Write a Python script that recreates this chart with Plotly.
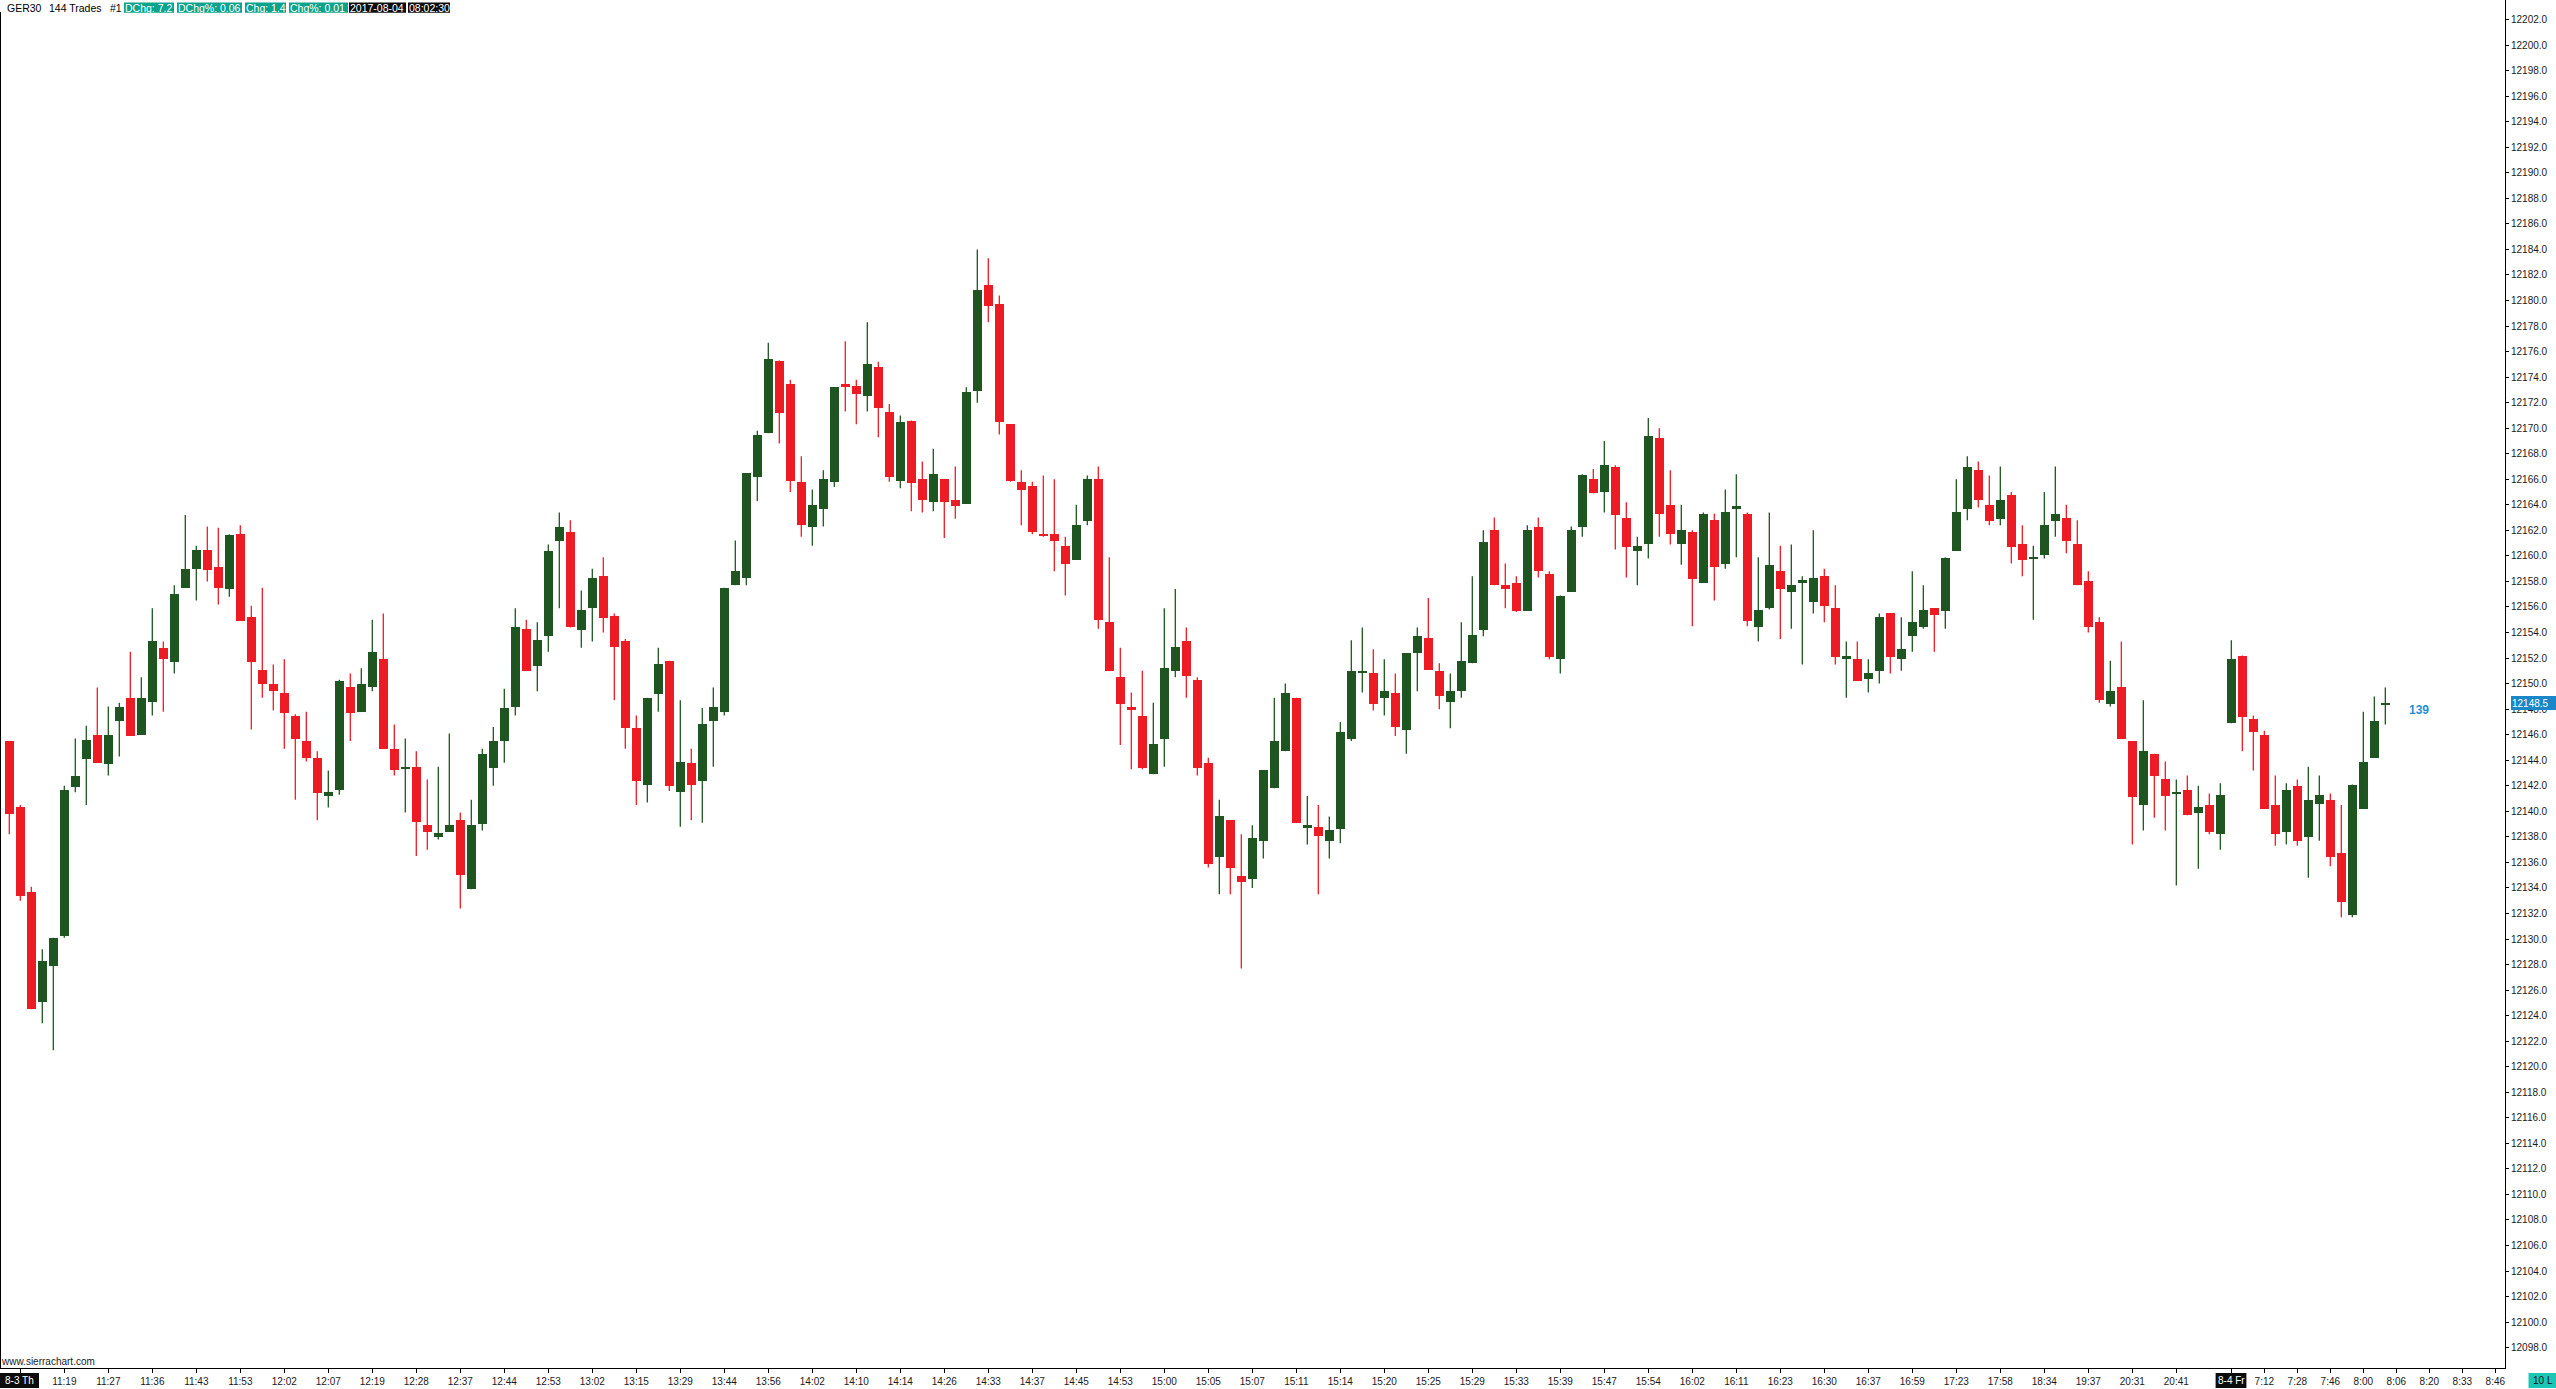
import plotly.graph_objects as go

# ---------------- data (GER30, 144-trade bars) ----------------
opens = [12145.5, 12140.3, 12133.7, 12125.1, 12127.9, 12130.2, 12141.9, 12144.1, 12146.0, 12143.7,
         12147.1, 12148.9, 12146.0, 12148.6, 12152.8, 12151.7, 12157.5, 12159.0, 12160.5, 12159.1,
         12157.4, 12161.7, 12155.2, 12151.1, 12150.0, 12149.3, 12147.5, 12145.5, 12144.2, 12141.2,
         12141.7, 12149.7, 12147.8, 12149.7, 12151.9, 12144.9, 12143.4, 12143.5, 12138.9, 12138.0,
         12138.4, 12139.3, 12133.9, 12139.0, 12143.4, 12145.5, 12148.2, 12154.3, 12151.4, 12153.7,
         12161.2, 12161.9, 12154.2, 12155.9, 12158.4, 12155.3, 12153.3, 12146.5, 12142.1, 12149.2,
         12151.8, 12141.5, 12143.8, 12142.4, 12147.1, 12147.8, 12157.7, 12158.3, 12166.2, 12169.6,
         12175.3, 12173.5, 12165.8, 12162.3, 12163.7, 12165.8, 12173.5, 12173.3, 12172.5, 12174.8,
         12171.3, 12165.9, 12170.6, 12166.0, 12164.2, 12166.0, 12164.4, 12164.1, 12172.9, 12181.2,
         12179.7, 12170.3, 12165.8, 12165.5, 12161.7, 12161.7, 12160.8, 12159.7, 12162.7, 12166.0,
         12154.8, 12150.5, 12148.2, 12147.5, 12142.9, 12145.7, 12151.0, 12153.3, 12150.3, 12143.8,
         12136.4, 12139.3, 12134.9, 12134.7, 12137.7, 12141.8, 12144.7, 12148.9, 12138.7, 12138.8,
         12137.7, 12138.6, 12145.7, 12150.8, 12150.8, 12148.9, 12149.3, 12146.4, 12152.4, 12153.6,
         12151.0, 12148.6, 12149.4, 12151.6, 12154.2, 12162.0, 12157.7, 12157.9, 12155.7, 12162.3,
         12158.6, 12151.9, 12157.2, 12162.3, 12166.0, 12165.0, 12167.0, 12163.0, 12160.4, 12160.9,
         12169.2, 12164.0, 12160.9, 12161.9, 12157.9, 12162.8, 12159.4, 12163.7, 12163.3, 12154.4,
         12155.9, 12158.8, 12157.2, 12157.9, 12156.4, 12158.4, 12155.9, 12151.9, 12151.9, 12150.4,
         12151.0, 12155.5, 12151.9, 12153.7, 12154.4, 12155.9, 12155.7, 12160.4, 12163.7, 12166.7,
         12164.0, 12162.9, 12164.8, 12160.9, 12159.8, 12160.1, 12162.7, 12163.0, 12160.9, 12158.0,
         12154.8, 12148.4, 12149.7, 12145.5, 12140.5, 12144.5, 12142.5, 12141.4, 12141.7, 12139.9,
         12140.5, 12138.2, 12146.9, 12152.2, 12147.2, 12146.0, 12140.5, 12138.4, 12142.0, 12138.0,
         12140.6, 12140.9, 12136.7, 12131.9, 12140.2, 12144.2, 12148.3]
highs = [12145.5, 12140.5, 12134.1, 12129.2, 12130.1, 12142.0, 12145.7, 12146.7, 12149.7, 12148.2,
         12148.5, 12152.5, 12150.5, 12155.9, 12153.3, 12157.7, 12163.2, 12160.8, 12162.3, 12162.2,
         12161.7, 12162.4, 12156.1, 12157.5, 12151.5, 12151.9, 12147.6, 12147.8, 12144.7, 12143.2,
         12150.3, 12150.8, 12151.2, 12155.0, 12155.5, 12146.8, 12145.7, 12144.7, 12142.5, 12143.5,
         12146.1, 12139.9, 12140.9, 12144.9, 12146.6, 12149.6, 12155.9, 12155.0, 12154.8, 12160.9,
         12163.4, 12162.8, 12157.3, 12159.0, 12159.9, 12155.5, 12153.5, 12147.5, 12148.9, 12152.8,
         12151.8, 12148.7, 12144.9, 12148.1, 12149.7, 12157.5, 12161.2, 12166.5, 12169.8, 12176.7,
         12175.3, 12173.8, 12167.8, 12165.2, 12166.7, 12173.2, 12176.8, 12173.8, 12178.3, 12175.2,
         12171.9, 12171.0, 12170.6, 12167.4, 12168.4, 12166.0, 12167.0, 12173.2, 12184.0, 12183.3,
         12180.4, 12170.3, 12166.7, 12165.8, 12166.3, 12166.0, 12161.5, 12164.0, 12166.3, 12167.0,
         12159.9, 12152.8, 12149.3, 12151.0, 12148.5, 12155.9, 12157.4, 12154.4, 12150.5, 12144.2,
         12140.9, 12139.3, 12138.2, 12138.9, 12143.2, 12148.9, 12150.0, 12148.9, 12141.2, 12140.5,
         12139.6, 12147.0, 12153.4, 12154.4, 12152.7, 12151.9, 12150.8, 12152.4, 12154.4, 12156.7,
         12151.6, 12150.8, 12154.8, 12158.4, 12162.0, 12163.0, 12159.4, 12158.4, 12162.4, 12163.0,
         12158.8, 12156.9, 12162.3, 12166.4, 12166.8, 12169.0, 12167.1, 12164.2, 12161.5, 12170.8,
         12170.0, 12166.7, 12164.0, 12162.0, 12163.4, 12163.3, 12165.2, 12166.4, 12163.4, 12159.9,
         12163.4, 12160.8, 12160.9, 12158.4, 12162.0, 12159.0, 12157.7, 12153.3, 12153.3, 12151.9,
         12155.5, 12155.5, 12155.2, 12158.8, 12157.7, 12155.9, 12159.9, 12166.0, 12167.8, 12167.4,
         12166.3, 12167.0, 12165.0, 12162.4, 12160.8, 12165.0, 12167.0, 12164.0, 12162.8, 12158.8,
         12155.2, 12151.8, 12153.3, 12145.5, 12148.7, 12144.5, 12143.9, 12142.5, 12142.8, 12142.0,
         12141.4, 12142.2, 12153.4, 12152.2, 12147.5, 12146.3, 12142.8, 12142.2, 12142.5, 12143.5,
         12142.8, 12141.4, 12140.5, 12142.1, 12147.8, 12149.0, 12149.7]
lows = [12138.2, 12133.0, 12124.5, 12123.4, 12121.3, 12130.1, 12141.5, 12140.5, 12143.8, 12142.8,
        12144.3, 12145.9, 12146.0, 12147.5, 12147.8, 12150.8, 12157.5, 12156.5, 12158.0, 12156.2,
        12156.8, 12154.9, 12146.4, 12148.9, 12147.9, 12144.9, 12140.9, 12143.9, 12139.3, 12140.3,
        12141.3, 12145.5, 12147.8, 12149.4, 12144.9, 12142.8, 12139.9, 12136.5, 12137.0, 12137.8,
        12138.4, 12132.4, 12133.9, 12138.5, 12142.0, 12143.8, 12147.5, 12151.0, 12149.4, 12152.5,
        12155.9, 12154.4, 12152.8, 12153.3, 12154.0, 12148.7, 12144.9, 12140.5, 12140.7, 12147.8,
        12141.6, 12138.8, 12139.3, 12139.1, 12143.5, 12147.5, 12157.7, 12157.7, 12164.3, 12169.6,
        12168.8, 12165.0, 12161.5, 12160.8, 12162.3, 12165.4, 12171.3, 12170.3, 12171.3, 12169.3,
        12165.8, 12165.3, 12163.5, 12163.4, 12163.5, 12161.4, 12162.9, 12164.1, 12172.0, 12178.3,
        12169.5, 12165.8, 12162.4, 12161.7, 12161.5, 12158.8, 12156.9, 12159.7, 12162.4, 12154.3,
        12151.0, 12145.2, 12143.3, 12143.3, 12142.9, 12143.5, 12150.5, 12148.9, 12142.8, 12135.6,
        12133.5, 12133.5, 12127.7, 12134.0, 12136.3, 12141.8, 12144.7, 12139.1, 12137.4, 12133.5,
        12136.3, 12137.5, 12145.5, 12149.3, 12147.9, 12147.5, 12145.9, 12144.5, 12149.4, 12151.1,
        12148.0, 12146.5, 12148.9, 12151.6, 12153.7, 12157.7, 12155.9, 12155.6, 12155.7, 12158.3,
        12151.9, 12150.8, 12157.2, 12161.5, 12164.9, 12163.4, 12160.5, 12158.3, 12157.7, 12159.8,
        12161.5, 12160.9, 12159.3, 12154.5, 12157.9, 12156.5, 12159.0, 12159.9, 12154.5, 12153.3,
        12155.8, 12153.5, 12154.3, 12151.5, 12155.5, 12154.8, 12151.5, 12148.9, 12150.2, 12149.3,
        12150.0, 12150.8, 12151.0, 12152.5, 12154.3, 12152.5, 12154.3, 12160.4, 12162.8, 12163.8,
        12162.4, 12162.4, 12159.4, 12158.4, 12155.0, 12159.8, 12161.5, 12160.2, 12157.7, 12154.0,
        12148.5, 12148.2, 12145.7, 12137.4, 12138.5, 12139.5, 12138.5, 12134.2, 12139.7, 12135.5,
        12138.2, 12137.0, 12146.9, 12144.7, 12143.2, 12140.2, 12137.3, 12137.4, 12137.3, 12134.8,
        12137.7, 12135.7, 12131.7, 12131.7, 12140.2, 12144.2, 12146.8]
closes = [12139.8, 12133.4, 12124.5, 12128.3, 12130.1, 12141.7, 12142.8, 12145.6, 12143.8, 12146.0,
          12148.2, 12145.9, 12148.9, 12153.3, 12151.9, 12157.0, 12159.0, 12160.5, 12158.9, 12157.5,
          12161.6, 12154.9, 12151.7, 12150.0, 12149.4, 12147.7, 12145.7, 12144.2, 12141.4, 12141.5,
          12150.2, 12147.7, 12150.0, 12152.5, 12144.9, 12143.2, 12143.4, 12139.2, 12138.4, 12138.3,
          12138.9, 12135.0, 12138.9, 12144.5, 12145.5, 12148.1, 12154.4, 12151.0, 12153.4, 12160.4,
          12162.3, 12154.4, 12155.8, 12158.3, 12155.1, 12152.9, 12146.5, 12142.4, 12148.9, 12151.5,
          12142.0, 12143.9, 12142.1, 12146.8, 12148.2, 12157.5, 12158.8, 12166.5, 12169.5, 12175.4,
          12171.2, 12165.9, 12162.4, 12164.0, 12166.0, 12173.2, 12173.2, 12172.7, 12175.0, 12171.6,
          12166.2, 12170.5, 12165.7, 12164.4, 12166.4, 12164.2, 12163.9, 12172.8, 12180.8, 12179.6,
          12170.5, 12165.9, 12165.2, 12161.9, 12161.6, 12161.2, 12159.4, 12162.4, 12166.0, 12155.0,
          12151.0, 12148.4, 12147.9, 12143.4, 12145.3, 12151.2, 12152.9, 12150.6, 12143.4, 12135.9,
          12139.6, 12135.6, 12134.5, 12137.9, 12143.2, 12145.5, 12149.3, 12139.1, 12138.9, 12138.1,
          12138.5, 12146.2, 12151.0, 12151.0, 12148.4, 12149.4, 12146.6, 12152.4, 12153.7, 12151.1,
          12149.0, 12149.4, 12151.8, 12153.8, 12161.1, 12157.7, 12157.4, 12155.7, 12162.0, 12158.8,
          12152.1, 12156.9, 12162.0, 12166.3, 12164.9, 12167.1, 12163.2, 12160.7, 12160.8, 12169.4,
          12163.3, 12161.7, 12162.0, 12158.2, 12163.3, 12159.1, 12163.4, 12163.9, 12154.9, 12155.8,
          12159.3, 12157.4, 12157.7, 12158.1, 12158.3, 12156.1, 12152.1, 12152.2, 12150.2, 12150.8,
          12155.2, 12152.1, 12152.7, 12154.8, 12155.8, 12155.4, 12159.8, 12163.4, 12167.0, 12164.4,
          12162.7, 12164.4, 12160.7, 12159.7, 12159.9, 12162.4, 12163.3, 12161.2, 12157.7, 12154.4,
          12148.7, 12149.4, 12145.7, 12141.1, 12144.7, 12142.8, 12141.2, 12141.5, 12139.7, 12140.3,
          12138.4, 12141.3, 12151.9, 12147.4, 12146.2, 12140.2, 12138.2, 12141.7, 12137.7, 12140.9,
          12141.3, 12136.4, 12132.9, 12142.1, 12143.9, 12147.1, 12148.5]

time_labels = ["11:19", "11:27", "11:36", "11:43", "11:53", "12:02", "12:07", "12:19", "12:28", "12:37",
               "12:44", "12:53", "13:02", "13:15", "13:29", "13:44", "13:56", "14:02", "14:10", "14:14",
               "14:26", "14:33", "14:37", "14:45", "14:53", "15:00", "15:05", "15:07", "15:11", "15:14",
               "15:20", "15:25", "15:29", "15:33", "15:39", "15:47", "15:54", "16:02", "16:11", "16:23",
               "16:30", "16:37", "16:59", "17:23", "17:58", "18:34", "19:37", "20:31", "20:41",
               "7:12", "7:28", "7:46", "8:00", "8:06", "8:20", "8:33", "8:46"]
label_bars = [5, 9, 13, 17, 21, 25, 29, 33, 37, 41,
              45, 49, 53, 57, 61, 65, 69, 73, 77, 81,
              85, 89, 93, 97, 101, 105, 109, 113, 117, 121,
              125, 129, 133, 137, 141, 145, 149, 153, 157, 161,
              165, 169, 173, 177, 181, 185, 189, 193, 197,
              205, 208, 211, 214, 217, 220, 223, 226]
day_labels = ["8-3 Th", "8-4 Fr"]
day_bars = [1, 202]

header_texts = ["GER30", "144 Trades", "#1"]
stat_labels = ["DChg:", "DChg%:", "Chg:", "Chg%:"]
stat_values = ["7.2", "0.06", "1.4", "0.01"]
stamp_texts = ["2017-08-04", "08:02:30"]
last_price = 12148.5
bar_counter = "139"

# ---------------- styling ----------------
W, H = 2556, 1389
PLOT_R = 2505      # right edge of the plot area (price scale line)
PLOT_B = 1368      # bottom edge of the plot area (time scale line)
GREEN = "#1e5520"
RED = "#ed1c24"
TEAL = "#0ba38b"
BLUE = "#1b87c9"
FONT = "Liberation Sans, Arial, sans-serif"

def pxx(p):
    return p / PLOT_R

def pxy(p):
    return 1 - p / PLOT_B

n = len(closes)
bars = list(range(n))
up = [c >= o for o, c in zip(opens, closes)]
colors = [GREEN if u else RED for u in up]
MINB = 0.2
body_base, body_h = [], []
for o, c in zip(opens, closes):
    d = abs(c - o)
    if d < MINB:
        body_base.append(min(o, c) - (MINB - d) / 2)
        body_h.append(MINB)
    else:
        body_base.append(min(o, c))
        body_h.append(d)

fig = go.Figure()
for sel, col in ((True, GREEN), (False, RED)):
    xs, ys = [], []
    for i in bars:
        if up[i] == sel:
            xs += [i, i, None]
            ys += [lows[i], highs[i], None]
    fig.add_trace(go.Scatter(x=xs, y=ys, mode="lines", line=dict(color=col, width=1.3),
                             hoverinfo="skip", showlegend=False))
fig.add_trace(go.Bar(x=bars, y=body_h, base=body_base, width=0.82,
                     marker=dict(color=colors, line=dict(width=0)),
                     hoverinfo="skip", showlegend=False))

tickvals = label_bars + day_bars
ticktext = time_labels + ["" for _ in day_bars]

fig.update_layout(
    width=W, height=H,
    margin=dict(l=0, r=W - PLOT_R, t=0, b=H - PLOT_B, pad=0),
    paper_bgcolor="white", plot_bgcolor="white",
    barmode="overlay", bargap=0, showlegend=False,
    font=dict(family=FONT, size=10, color="#111111"),
    xaxis=dict(range=[-0.845, 226.88], showgrid=False, zeroline=False,
               showline=True, linecolor="black", linewidth=1,
               ticks="outside", ticklen=4, tickcolor="black", tickwidth=1,
               tickmode="array", tickvals=tickvals, ticktext=ticktext,
               tickfont=dict(size=10, color="#1a1a1a", family=FONT), fixedrange=True),
    yaxis=dict(range=[12096.41, 12203.53], side="right", showgrid=False, zeroline=False,
               showline=True, linecolor="black", linewidth=1,
               ticks="outside", ticklen=3, tickcolor="black", tickwidth=1,
               tick0=12098, dtick=2, tickformat=".1f",
               tickfont=dict(size=10, color="#1a1a1a", family=FONT), fixedrange=True),
)

shapes = []
annotations = []

# left border line (starts below the header)
shapes.append(dict(type="line", xref="paper", yref="paper", x0=0, x1=0,
                   y0=0, y1=pxy(12), line=dict(color="black", width=2)))

# header
hx = [6.5, 48.5, 109.5]
for t, x in zip(header_texts, hx):
    annotations.append(dict(xref="paper", yref="paper", x=pxx(x), y=pxy(7.8), text=t,
                            showarrow=False, xanchor="left", yanchor="middle",
                            borderpad=0, borderwidth=0,
                            font=dict(size=10.5, color="black", family=FONT)))
box_l = [124, 177, 245, 289]
box_r = [174, 242, 286, 348]
for lab, val, l, r in zip(stat_labels, stat_values, box_l, box_r):
    shapes.append(dict(type="rect", xref="paper", yref="paper", x0=pxx(l), x1=pxx(r),
                       y0=pxy(12.8), y1=pxy(2.5), fillcolor=TEAL, line=dict(width=0), layer="above"))
    annotations.append(dict(xref="paper", yref="paper", x=pxx(l + 1), y=pxy(7.8),
                            text="<u>" + lab + "</u> " + val, showarrow=False,
                            xanchor="left", yanchor="middle", borderpad=0, borderwidth=0,
                            font=dict(size=10.5, color="white", family=FONT)))
st_l = [349, 408]
st_r = [406, 450]
for t, l, r in zip(stamp_texts, st_l, st_r):
    shapes.append(dict(type="rect", xref="paper", yref="paper", x0=pxx(l), x1=pxx(r),
                       y0=pxy(12.8), y1=pxy(2.5), fillcolor="#0c0c0c", line=dict(width=0), layer="above"))
    annotations.append(dict(xref="paper", yref="paper", x=pxx(l + 1), y=pxy(7.8), text=t,
                            showarrow=False, xanchor="left", yanchor="middle",
                            borderpad=0, borderwidth=0,
                            font=dict(size=10.5, color="white", family=FONT)))

# day markers on the time scale (black boxes, white text)
day_box = [(0, 39), (2215.6, 2246.4)]
for t, (l, r) in zip(day_labels, day_box):
    shapes.append(dict(type="rect", xref="paper", yref="paper", x0=pxx(l), x1=pxx(r),
                       y0=pxy(1388), y1=pxy(1373), fillcolor="#0c0c0c", line=dict(width=0), layer="above"))
    annotations.append(dict(xref="paper", yref="paper", x=pxx((l + r) / 2), y=pxy(1380.5), text=t,
                            showarrow=False, xanchor="center", yanchor="middle",
                            borderpad=0, borderwidth=0,
                            font=dict(size=10, color="white", family=FONT)))

# watermark
annotations.append(dict(xref="paper", yref="paper", x=pxx(0.5), y=pxy(1361), text="www.sierrachart.com",
                        showarrow=False, xanchor="left", yanchor="middle", borderpad=0, borderwidth=0,
                        font=dict(size=10, color="#222222", family=FONT)))

# "10 L" box at bottom right
shapes.append(dict(type="rect", xref="paper", yref="paper", x0=pxx(2528.5), x1=pxx(2556),
                   y0=pxy(1388), y1=pxy(1373), fillcolor="#1cc6b4", line=dict(width=0), layer="above"))
annotations.append(dict(xref="paper", yref="paper", x=pxx(2542.5), y=pxy(1380.5), text="10 L",
                        showarrow=False, xanchor="center", yanchor="middle", borderpad=0, borderwidth=0,
                        font=dict(size=10, color="#111111", family=FONT)))

# current price label on the price scale
annotations.append(dict(xref="paper", yref="y", x=pxx(2511), y=last_price, text=f"{last_price:.1f}",
                        showarrow=False, xanchor="left", yanchor="middle", align="left",
                        bgcolor=BLUE, borderpad=1, borderwidth=0, width=43, height=12,
                        font=dict(size=10, color="white", family=FONT)))

# bar counter text
annotations.append(dict(xref="x", yref="y", x=219.1, y=12147.9, text="<b>" + bar_counter + "</b>",
                        showarrow=False, xanchor="center", yanchor="middle",
                        font=dict(size=12, color="#1e8fd6", family=FONT)))

fig.update_layout(shapes=shapes, annotations=annotations)

fig.write_html("out.html", config={"displayModeBar": False},
               post_script="document.body.style.margin='0';document.body.style.overflow='hidden';")
